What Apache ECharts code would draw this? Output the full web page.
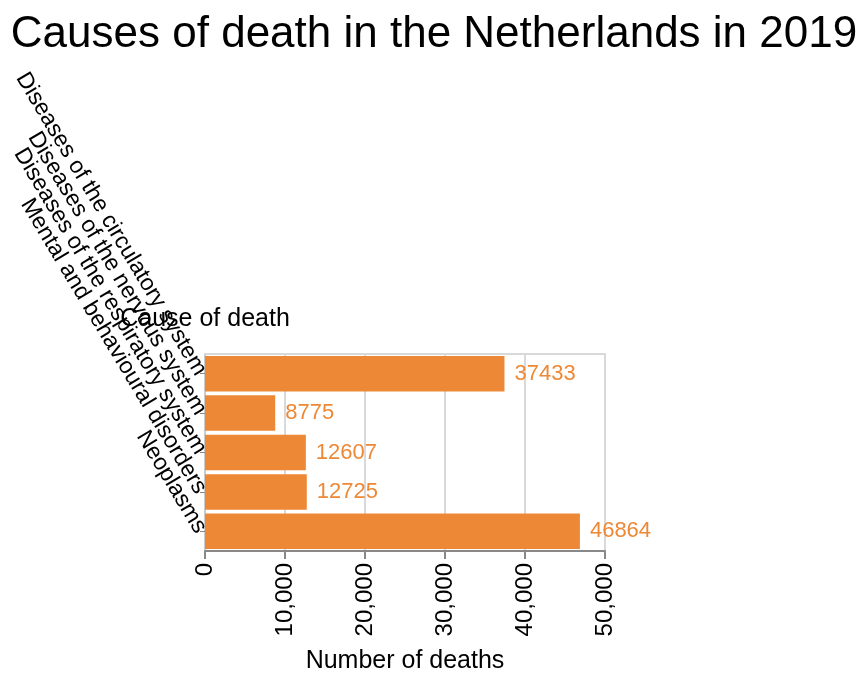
<!DOCTYPE html>
<html>
<head>
<meta charset="utf-8">
<script src="https://cdn.jsdelivr.net/npm/echarts@6/dist/echarts.min.js"></script>
<style>
  html, body { margin: 0; padding: 0; background: #fff; }
  #chart { width: 868px; height: 684px; }
</style>
</head>
<body>
<div id="chart"></div>
<script>
// data
const causes = [
  'Diseases of the circulatory system',
  'Diseases of the nervous system',
  'Diseases of the respiratory system',
  'Mental and behavioural disorders',
  'Neoplasms'
];
const deaths = [37433, 8775, 12607, 12725, 46864];
const xTicks = [0, 10000, 20000, 30000, 40000, 50000];

const FONT = '"Liberation Sans", Arial, sans-serif';
const ORANGE = '#ed8936';

const chart = echarts.init(document.getElementById('chart'));
chart.setOption({
  animation: false,
  textStyle: { fontFamily: FONT },
  title: {
    text: 'Causes of death in the Netherlands in 2019',
    left: 'center',
    top: 8,
    textStyle: { fontFamily: FONT, fontSize: 44, fontWeight: 'normal', color: '#000' }
  },
  grid: { left: 205, right: 263, top: 354, bottom: 133 },
  xAxis: [{
    type: 'value',
    min: xTicks[0],
    max: xTicks[xTicks.length - 1],
    interval: 10000,
    name: 'Number of deaths',
    nameLocation: 'middle',
    nameGap: 98,
    nameTextStyle: { fontFamily: FONT, fontSize: 25, color: '#000' },
    axisLine: { show: true, lineStyle: { color: '#888', width: 2 } },
    axisTick: { show: true, length: 8, lineStyle: { color: '#888', width: 2 } },
    axisLabel: {
      rotate: 90,
      margin: 12,
      fontFamily: FONT,
      fontSize: 24,
      color: '#000',
      formatter: v => v.toLocaleString('en-US')
    },
    splitLine: { show: true, lineStyle: { color: '#d9d9d9', width: 2 } }
  }, {
    // top border line
    type: 'value',
    position: 'top',
    min: xTicks[0],
    max: xTicks[xTicks.length - 1],
    axisLine: { show: true, lineStyle: { color: '#d9d9d9', width: 2 } },
    axisTick: { show: false },
    axisLabel: { show: false },
    splitLine: { show: false }
  }],
  yAxis: {
    type: 'category',
    data: causes,
    inverse: true,
    name: 'Cause of death',
    nameLocation: 'start',
    nameGap: 22,
    nameMoveOverlap: false,
    nameTextStyle: { fontFamily: FONT, fontSize: 25, color: '#000' },
    axisLine: { show: true, lineStyle: { color: '#ccc', width: 2 } },
    axisTick: { show: true, alignWithLabel: true, length: 5, lineStyle: { color: '#888', width: 1 } },
    axisLabel: {
      rotate: -59,
      margin: 4,
      interval: 0,
      hideOverlap: false,
      fontFamily: FONT,
      fontSize: 23,
      color: '#000'
    },
    splitLine: { show: false }
  },
  series: [{
    type: 'bar',
    data: deaths,
    barCategoryGap: '10%',
    itemStyle: { color: ORANGE },
    label: {
      show: true,
      position: 'right',
      distance: 10,
      fontFamily: FONT,
      fontSize: 22,
      color: ORANGE
    }
  }]
});
</script>
</body>
</html>
